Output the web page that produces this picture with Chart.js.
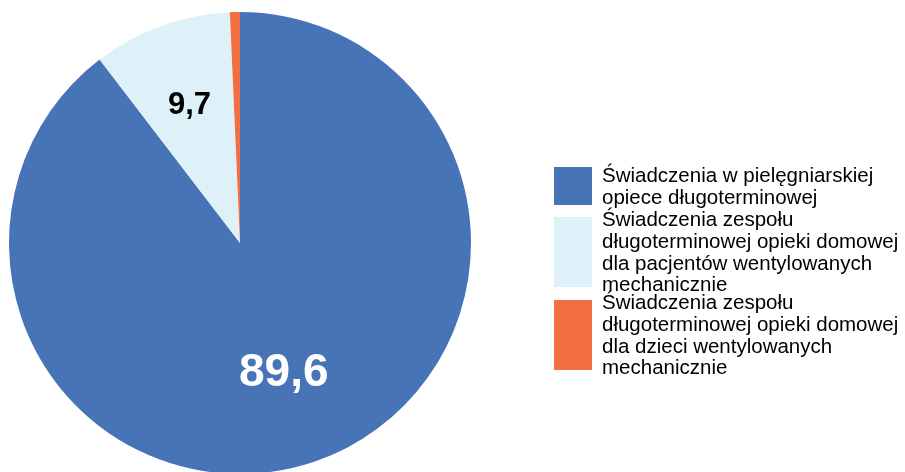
<!DOCTYPE html>
<html>
<head>
<meta charset="utf-8">
<script src="https://cdn.jsdelivr.net/npm/chart.js@4"></script>
<style>
  html, body { margin: 0; padding: 0; background: #fff; overflow: hidden; }
  #wrap { position: relative; width: 905px; height: 480px; }
</style>
</head>
<body>
<div id="wrap"><canvas id="myChart" width="905" height="480"></canvas></div>
<script>
// chart data
const categories = [
    "Świadczenia w pielęgniarskiej opiece długoterminowej",
    "Świadczenia zespołu długoterminowej opieki domowej dla pacjentów wentylowanych mechanicznie",
    "Świadczenia zespołu długoterminowej opieki domowej dla dzieci wentylowanych mechanicznie"
];
const legendLines = [
    ["Świadczenia w pielęgniarskiej", "opiece długoterminowej"],
    ["Świadczenia zespołu", "długoterminowej opieki domowej", "dla pacjentów wentylowanych", "mechanicznie"],
    ["Świadczenia zespołu", "długoterminowej opieki domowej", "dla dzieci wentylowanych", "mechanicznie"]
];
const values = [89.6, 9.7, 0.7];
const colors = ["#4674b7", "#dff1f8", "#f26e43"];

//labels on slices
const sliceLabels = {
    id: "sliceLabels",
    afterDatasetsDraw(chart) {
        const ctx = chart.ctx;
        const meta = chart.getDatasetMeta(0);
        const style = [
            { r: 0.59, font: "bold 46px 'Liberation Sans', Arial", color: "#ffffff" },
            { r: 0.64, font: "bold 31px 'Liberation Sans', Arial", color: "#000000" },
            null
        ];
        meta.data.forEach((arc, i) => {
            if (!style[i]) return;
            const p = arc.getProps(["x", "y", "startAngle", "endAngle", "outerRadius"], true);
            const mid = (p.startAngle + p.endAngle) / 2;
            const d = p.outerRadius * style[i].r;
            ctx.save();
            ctx.font = style[i].font;
            ctx.fillStyle = style[i].color;
            ctx.textAlign = "center";
            ctx.textBaseline = "middle";
            ctx.fillText(values[i].toFixed(1).replace(".", ","), p.x + Math.cos(mid) * d, p.y + Math.sin(mid) * d + 1);
            ctx.restore();
        });
    }
};

//legend on the right
const sideLegend = {
    id: "sideLegend",
    afterDraw(chart) {
        const ctx = chart.ctx;
        const boxes = [[167, 38], [217, 70], [300, 70]];
        ctx.save();
        ctx.font = "20.5px 'Liberation Sans', Arial";
        ctx.textBaseline = "middle";
        ctx.fillStyle = "#000";
        legendLines.forEach((lines, i) => {
            const [top, h] = boxes[i];
            ctx.fillStyle = colors[i];
            ctx.fillRect(554, top, 38, h);
            ctx.fillStyle = "#000";
            const lh = 21.7;
            const cy = top + h / 2 + 1;
            lines.forEach((t, j) => {
                ctx.fillText(t, 602, cy + (j - (lines.length - 1) / 2) * lh);
            });
        });
        ctx.restore();
    }
};

let ctx = document.getElementById("myChart").getContext("2d");
let myChart = new Chart(ctx, {
    type: "pie",
    data: {
        labels: categories,
        datasets: [{
            data: values,
            backgroundColor: colors,
            borderWidth: 0
        }]
    },
    options: {
        responsive: false,
        animation: false,
        layout: { padding: { left: 9, top: 12, right: 434, bottom: 6 } },
        plugins: {
            legend: { display: false },
            tooltip: { enabled: false }
        }
    },
    plugins: [sliceLabels, sideLegend]
});
</script>
</body>
</html>
